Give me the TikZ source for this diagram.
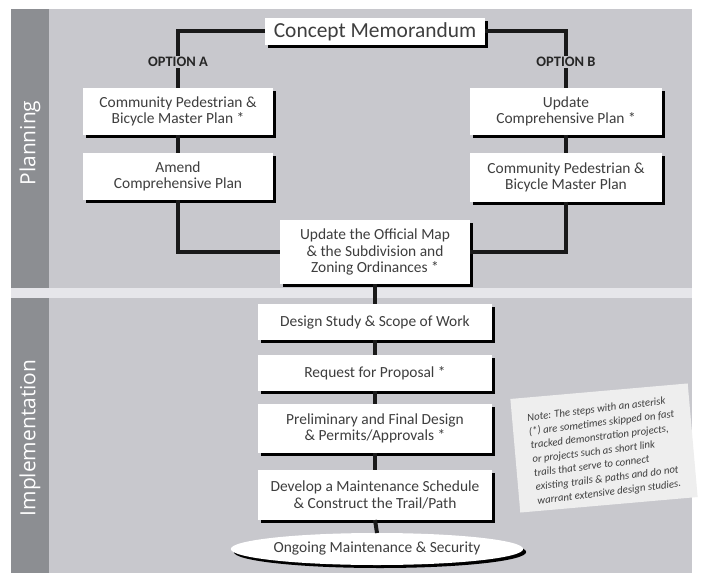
\documentclass[tikz,border=0pt]{standalone}
\usepackage{fontspec}
\setmainfont{Carlito}
\newfontfamily\sidefont{Open Sans}
\usetikzlibrary{shapes.geometric,shadows}
\definecolor{band}{RGB}{140,142,146}
\definecolor{panel}{RGB}{200,200,205}
\definecolor{strip}{RGB}{230,230,234}
\definecolor{paper}{RGB}{238,238,238}
\definecolor{txt}{RGB}{62,62,62}
\definecolor{linec}{RGB}{25,25,25}
\begin{document}
\begin{tikzpicture}[x=1bp,y=-1bp,
  box/.style={fill=white, text=txt, align=center, inner sep=0pt, outer sep=0pt,
    font=\fontsize{15.5}{16.5}\selectfont,
    drop shadow={shadow xshift=3bp, shadow yshift=-3bp, opacity=1, fill=black}},
  conn/.style={draw=linec, line width=4bp},
  optlabel/.style={text=black!85, inner sep=1.5pt, font=\bfseries\fontsize{14.5}{16}\selectfont},
  sidelabel/.style={rotate=90, text=white, font=\sidefont\fontsize{21}{23}\selectfont}]
\useasboundingbox (0,0) rectangle (704,575);
% panels
\fill[white] (0,0) rectangle (704,575);
\fill[panel] (11,9) rectangle (692,288);
\fill[strip] (11,288) rectangle (692,298);
\fill[panel] (11,298) rectangle (692,573);
\fill[band] (11,9) rectangle (49,288);
\fill[band] (11,298) rectangle (49,573);
\node[sidelabel] (plan) at (30,143) {Planning};
\node[sidelabel] (impl) at (30,438) {Implementation};
% planning nodes
\node[box, minimum width=220bp, minimum height=27bp, font=\fontsize{21.5}{23}\selectfont] (concept) at (375,31.5) {Concept Memorandum};
\node[optlabel] (optA) at (178,62) {OPTION A};
\node[optlabel] (optB) at (566,62) {OPTION B};
\node[box, minimum width=190bp, minimum height=47bp] (a1) at (178,111.5) {Community Pedestrian \&\\Bicycle Master Plan *};
\node[box, minimum width=190bp, minimum height=47bp] (a2) at (178,176.5) {Amend\\Comprehensive Plan};
\node[box, minimum width=192bp, minimum height=47bp] (b1) at (566,111.5) {Update\\Comprehensive Plan *};
\node[box, minimum width=192bp, minimum height=48bp] (b2) at (566,177.5) {Community Pedestrian \&\\Bicycle Master Plan};
\node[box, minimum width=190bp, minimum height=64bp] (m) at (375,252) {Update the Official Map\\\& the Subdivision and\\Zoning Ordinances *};
% implementation nodes
\node[box, minimum width=234bp, minimum height=36bp] (d1) at (375,322) {Design Study \& Scope of Work};
\node[box, minimum width=234bp, minimum height=36bp] (d2) at (375,373) {Request for Proposal *};
\node[box, minimum width=234bp, minimum height=49bp] (d3) at (375,428.5) {Preliminary and Final Design\\\& Permits/Approvals *};
\node[box, minimum width=234bp, minimum height=50bp] (d4) at (375,495) {Develop a Maintenance Schedule\\\& Construct the Trail/Path};
\node[box, ellipse, minimum width=232bp, minimum height=32bp] (e) at (377,549) {Ongoing Maintenance \& Security};
% connectors
\draw[conn] (concept.west) -| (optA.north);
\draw[conn] (optA.south) -- (a1.north);
\draw[conn] (concept.east) -| (optB.north);
\draw[conn] (optB.south) -- (b1.north);
\draw[conn] (a1.south) -- (a2.north);
\draw[conn] (b1.south) -- (b2.north);
\draw[conn] (a2.south) |- (m.west);
\draw[conn] (b2.south) |- (m.east);
\draw[conn] (m.south) -- (d1.north);
\draw[conn] (d1.south) -- (d2.north);
\draw[conn] (d2.south) -- (d3.north);
\draw[conn] (d3.south) -- (d4.north);
\draw[conn] (d4.south) -- (e.north);
% note
\node[fill=paper, rotate=5, minimum width=178bp, minimum height=114bp, inner sep=0pt] (paperbg) at (604,448) {};
\node[rotate=7, align=left, text=txt, inner sep=0pt, font=\itshape\fontsize{10.8}{14}\selectfont] (note) at (605,451)
  {Note: The steps with an asterisk\\(*) are sometimes skipped on fast\\tracked demonstration projects,\\or projects such as short link\\trails that serve to connect\\existing trails \& paths and do not\\warrant extensive design studies.};
\end{tikzpicture}
\end{document}
